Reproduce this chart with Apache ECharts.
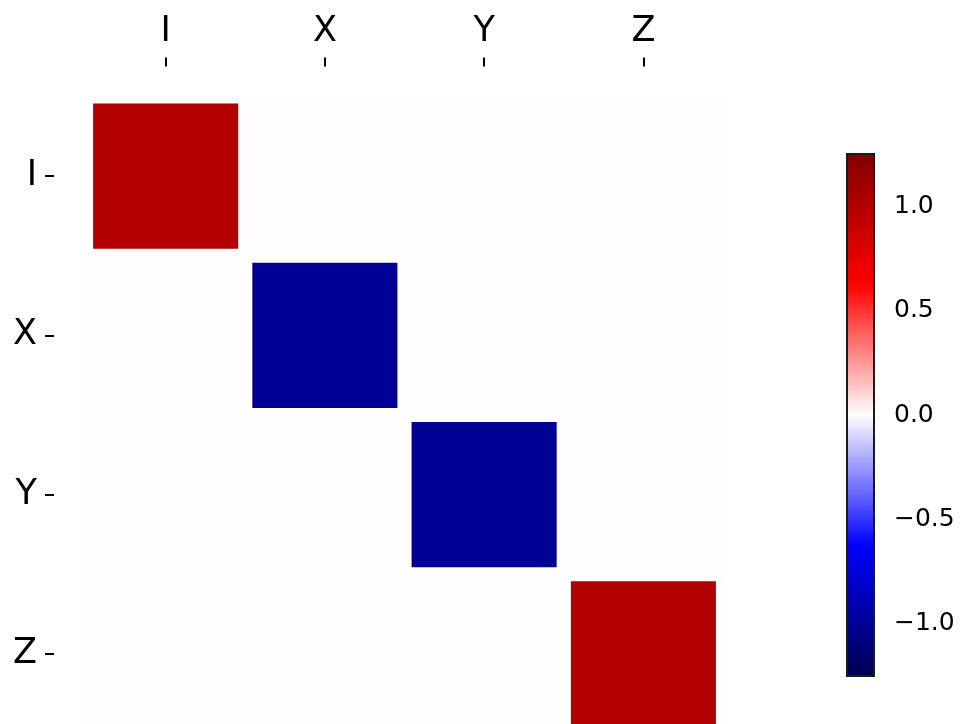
<!DOCTYPE html>
<html>
<head>
<meta charset="utf-8">
<script src="https://cdn.jsdelivr.net/npm/echarts@6/dist/echarts.min.js"></script>
<style>
  html, body { margin: 0; padding: 0; background: #ffffff; }
  #chart { width: 962px; height: 724px; }
</style>
</head>
<body>
<div id="chart"></div>
<script>
// Pauli operator labels along both axes
const rowLabels = ['I', 'X', 'Y', 'Z'];
const colLabels = ['I', 'X', 'Y', 'Z'];

// Matrix values, one array per row
const rowI = [1, 0, 0, 0];
const rowX = [0, -1, 0, 0];
const rowY = [0, 0, -1, 0];
const rowZ = [0, 0, 0, 1];

// Colour scale limits and colorbar tick values
const scaleMin = -1.25;
const scaleMax = 1.25;
const colorbarTicks = [-1.0, -0.5, 0.0, 0.5, 1.0];

// Diverging "seismic" palette, low to high
const seismic = ['#00004d', '#0000ff', '#fffdfd', '#ff0000', '#800000'];

const rows = [rowI, rowX, rowY, rowZ];
const cells = [];
rows.forEach((r, i) => r.forEach((v, j) => cells.push([j, i, v])));

const FONT = 'DejaVu Sans';
const chart = echarts.init(document.getElementById('chart'), null, { renderer: 'canvas' });

chart.setOption({
  backgroundColor: '#ffffff',
  animation: false,
  grid: [
    { left: 86, top: 96.5, width: 637, height: 637, show: true, backgroundColor: '#fffdfd', borderWidth: 0,
      containLabel: false, outerBoundsMode: 'none' },
    { left: 847, top: 154, width: 27, height: 522, show: false, containLabel: false, outerBoundsMode: 'none' }
  ],
  xAxis: [
    {
      type: 'category', gridIndex: 0, data: colLabels, position: 'top', offset: 30,
      axisLine: { show: false },
      axisTick: { show: true, alignWithLabel: true, length: 9, lineStyle: { color: '#000', width: 2 } },
      axisLabel: { fontFamily: FONT, fontSize: 35, color: '#000', margin: 17 },
      splitLine: { show: false }
    },
    {
      type: 'value', gridIndex: 1, min: 0, max: 1, show: false
    }
  ],
  yAxis: [
    {
      type: 'category', gridIndex: 0, data: rowLabels, inverse: true, offset: 32,
      axisLine: { show: false },
      axisTick: { show: true, alignWithLabel: true, length: 9, lineStyle: { color: '#000', width: 2 } },
      axisLabel: { fontFamily: FONT, fontSize: 35, color: '#000', margin: 17 },
      splitLine: { show: false }
    },
    {
      type: 'value', gridIndex: 1, min: scaleMin, max: scaleMax, position: 'right',
      axisLine: { show: false },
      axisTick: { show: true, length: 9, customValues: colorbarTicks, lineStyle: { color: '#000', width: 2 } },
      axisLabel: {
        fontFamily: FONT, fontSize: 25, color: '#000', margin: 20,
        customValues: colorbarTicks,
        formatter: v => v.toFixed(1).replace('-', '\u2212')
      },
      splitLine: { show: false }
    }
  ],
  visualMap: {
    show: false, type: 'continuous', seriesIndex: 0, dimension: 2,
    min: scaleMin, max: scaleMax, inRange: { color: seismic }
  },
  series: [
    {
      // Squares, each filling most of its cell, coloured by value
      type: 'custom', xAxisIndex: 0, yAxisIndex: 0, data: cells,
      encode: { x: 0, y: 1 },
      renderItem: (params, api) => {
        const c = api.coord([api.value(0), api.value(1)]);
        const s = api.size([1, 1]);
        const w = s[0] * 0.911, h = s[1] * 0.911;
        return {
          type: 'rect',
          shape: { x: c[0] - w / 2, y: c[1] - h / 2, width: w, height: h },
          style: { fill: api.visual('color') }
        };
      }
    },
    {
      // Colorbar strip spanning the full scale
      type: 'custom', xAxisIndex: 1, yAxisIndex: 1,
      data: [[0, scaleMin, scaleMax]],
      renderItem: (params, api) => {
        const cs = params.coordSys;
        const top = api.coord([0, api.value(2)])[1];
        const bot = api.coord([0, api.value(1)])[1];
        const stops = seismic.slice().reverse().map((col, k, a) => ({ offset: k / (a.length - 1), color: col }));
        return {
          type: 'rect',
          shape: { x: cs.x, y: top, width: cs.width, height: bot - top },
          style: {
            fill: new echarts.graphic.LinearGradient(0, 0, 0, 1, stops),
            stroke: '#1a1a1a', lineWidth: 2
          }
        };
      }
    }
  ]
});
</script>
</body>
</html>
